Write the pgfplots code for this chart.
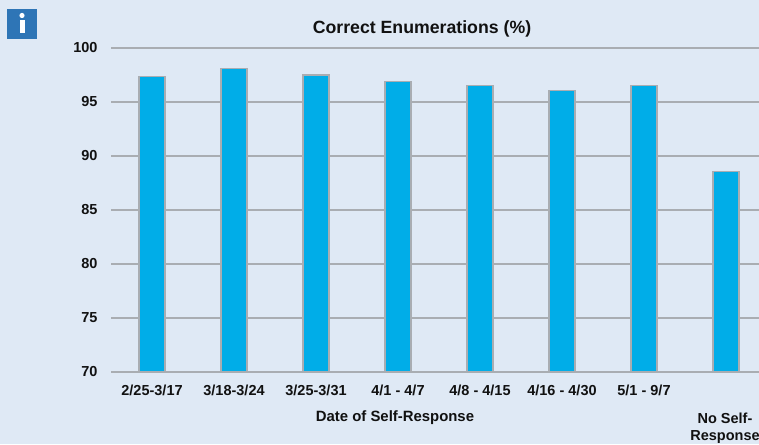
\documentclass[border=0pt]{standalone}
\usepackage{pgfplots}
\pgfplotsset{compat=1.18}
\usepackage{fontspec}
\setmainfont{Liberation Sans}
\definecolor{bgc}{HTML}{DFE9F5}
\definecolor{barc}{HTML}{00ADE8}
\definecolor{gridc}{HTML}{A9ADB2}
\definecolor{iconc}{HTML}{2E75B6}
\definecolor{txt}{HTML}{111111}
\begin{document}
\begin{tikzpicture}[x=1pt,y=1pt]
\clip (0,0) rectangle (759,444);
\fill[bgc] (0,0) rectangle (759,444);
\fill[iconc] (7,405) rectangle (37,435);
\fill[white] (22,428.5) circle (2.6);
\fill[white] (20,410.5) rectangle (24.5,423.5);
\begin{axis}[
  at={(111pt,72pt)}, anchor=south west,
  scale only axis, width=650pt, height=324pt,
  xmin=-0.5, xmax=7.427, ymin=70, ymax=100,
  axis y line=left, axis x line=bottom,
  axis line style={draw=none},
  x axis line style={draw=gridc, line width=1.5pt, -},
  y axis line style={draw=none},
  xtick={0,1,2,3,4,5,6,7},
  xticklabels={2/25-3/17,3/18-3/24,3/25-3/31,4/1 - 4/7,4/8 - 4/15,4/16 - 4/30,5/1 - 9/7,{}},
  ytick={70,75,80,85,90,95,100},
  major tick length=0pt,
  ymajorgrids, grid style={draw=gridc, line width=1.5pt},
  tick label style={font=\bfseries\fontsize{14.5}{16}\selectfont, text=txt},
  /pgf/number format/assume math mode=true,
  x tick label style={yshift=-9pt},
  y tick label style={xshift=-10pt},
  ybar, bar width=26pt,
  clip=false,
]
\addplot[fill=barc, draw=gridc, line width=1.1pt] coordinates {
 (0,97.4) (1,98.1) (2,97.5) (3,96.9) (4,96.5) (5,96.1) (6,96.5) (7,88.6)};
\end{axis}
\node[font=\bfseries\fontsize{17.7}{19}\selectfont, text=txt] at (422,415.5) {Correct Enumerations (\%)};
\node[font=\bfseries\fontsize{14.9}{16}\selectfont, text=txt] at (395,26) {Date of Self-Response};
\node[font=\bfseries\fontsize{14.5}{16}\selectfont, text=txt] at (725,26) {No Self-};
\node[font=\bfseries\fontsize{14.5}{16}\selectfont, text=txt] at (725,7) {Response};
\end{tikzpicture}
\end{document}
